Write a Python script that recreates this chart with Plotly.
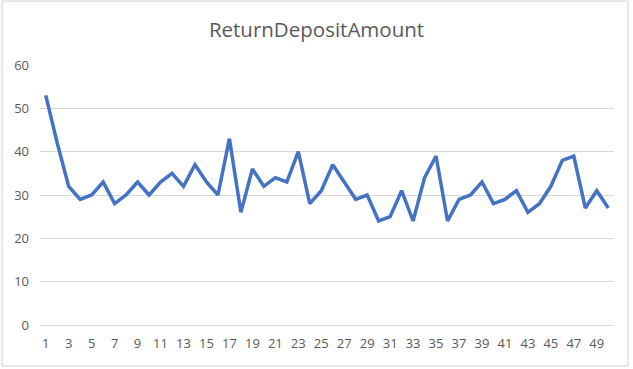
import plotly.graph_objects as go

title = "ReturnDepositAmount"
x_index = list(range(1, 51))
values = [53, 42, 32, 29, 30, 33, 28, 30, 33, 30,
          33, 35, 32, 37, 33, 30, 43, 26, 36, 32,
          34, 33, 40, 28, 31, 37, 33, 29, 30, 24,
          25, 31, 24, 34, 39, 24, 29, 30, 33, 28,
          29, 31, 26, 28, 32, 38, 39, 27, 31, 27]
x_tick_vals = list(range(1, 51, 2))
y_tick_vals = [0, 10, 20, 30, 40, 50, 60]

W, H = 633, 369
ml, mr, mt, mb = 40, 19, 65, 44
pw, ph = W - ml - mr, H - mt - mb

fig = go.Figure()
fig.add_trace(go.Scatter(x=x_index, y=values, mode="lines",
                         line=dict(color="#4472C4", width=3.5),
                         hoverinfo="skip"))

fig.update_layout(
    width=W, height=H,
    margin=dict(l=ml, r=mr, t=mt, b=mb, autoexpand=False),
    paper_bgcolor="white", plot_bgcolor="white",
    showlegend=False,
    font=dict(family="Open Sans, Liberation Sans, sans-serif", color="#595959", size=13),
    title=dict(text=title, x=0.5, xanchor="center", y=1 - 30 / H, yanchor="middle",
               font=dict(size=20.5, color="#595959")),
    xaxis=dict(range=[0.5, 50.5], tickmode="array", tickvals=x_tick_vals,
               ticktext=[str(v) for v in x_tick_vals], showgrid=False, automargin=False,
               zeroline=False, showline=False, ticks="", ticklabelstandoff=9,
               tickfont=dict(size=13, color="#595959")),
    yaxis=dict(range=[0, 60], tickmode="array", tickvals=y_tick_vals, automargin=False,
               showgrid=True, gridcolor="#D9D9D9", gridwidth=1,
               zeroline=True, zerolinecolor="#D9D9D9", zerolinewidth=1,
               showline=False, ticks="", ticklabelstandoff=10,
               tickfont=dict(size=13, color="#595959")),
)

# outer chart border
fig.add_shape(type="rect", xref="paper", yref="paper",
              x0=(2 - ml) / pw, x1=(628 - ml) / pw,
              y0=-(366 - (H - mb)) / ph, y1=1 + (mt - 1) / ph,
              line=dict(color="#D0D0D0", width=1), fillcolor="rgba(0,0,0,0)", layer="above")

fig.write_html("out.html", config={"displayModeBar": False},
               post_script="document.body.style.margin='0';document.body.style.overflow='hidden';")
